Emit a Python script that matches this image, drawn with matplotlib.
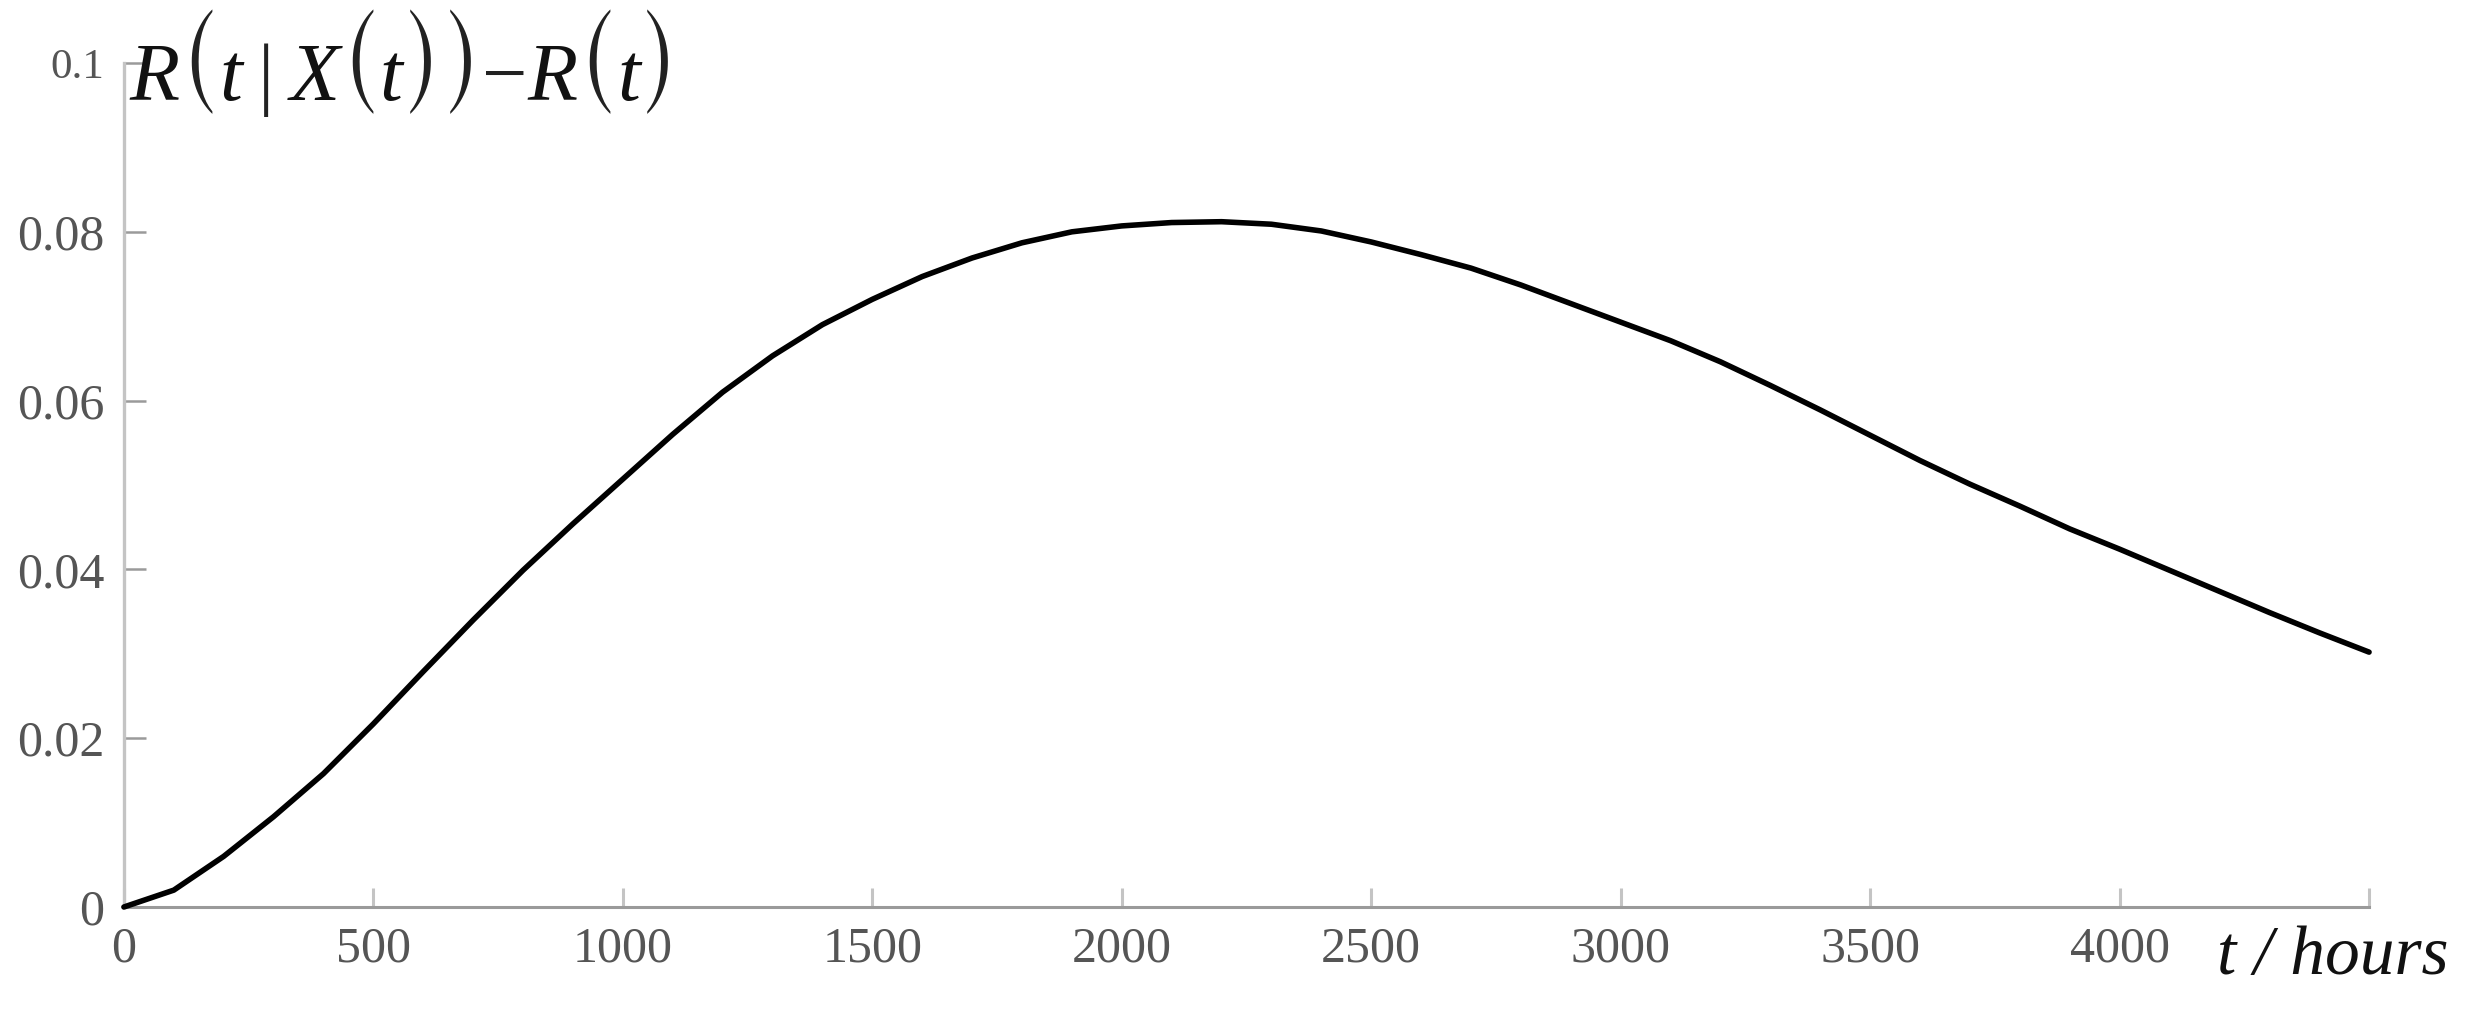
import matplotlib
matplotlib.use('Agg')
import matplotlib.pyplot as plt
from matplotlib.offsetbox import TextArea, HPacker, AnchoredOffsetbox

# curve values (t in hours)
hours = [0, 100, 200, 300, 400, 500, 600, 700, 800, 900,
         1000, 1100, 1200, 1300, 1400, 1500, 1600, 1700, 1800, 1900,
         2000, 2100, 2200, 2300, 2400, 2500, 2600, 2700, 2800, 2900,
         3000, 3100, 3200, 3300, 3400, 3500, 3600, 3700, 3800, 3900,
         4000, 4100, 4200, 4300, 4400, 4500]
reliability_gain = [0.0, 0.0020, 0.0060, 0.0107, 0.0158, 0.0217, 0.0279, 0.0340, 0.0399, 0.0454,
                    0.0507, 0.0560, 0.0610, 0.0653, 0.0690, 0.0720, 0.0747, 0.0769, 0.0787, 0.0800,
                    0.0807, 0.0811, 0.0812, 0.0809, 0.0801, 0.0788, 0.0773, 0.0757, 0.0737, 0.0715,
                    0.0693, 0.0671, 0.0646, 0.0618, 0.0589, 0.0559, 0.0529, 0.0501, 0.0475, 0.0448,
                    0.0424, 0.0399, 0.0374, 0.0349, 0.0325, 0.0302]

x_ticks = [0, 500, 1000, 1500, 2000, 2500, 3000, 3500, 4000, 4500]
x_tick_labels = ['0', '500', '1000', '1500', '2000', '2500', '3000', '3500', '4000', '']
y_ticks = [0, 0.02, 0.04, 0.06, 0.08, 0.1]
y_tick_labels = ['0', '0.02', '0.04', '0.06', '0.08', '0.1']

# y-axis title R(t | X(t)) - R(t), split so the brackets can be taller
title_parts = ['R', '(', 't', '\u2009|\u2009', 'X', '(', 't', ')', ')', '\u2212', 'R', '(', 't', ')']

plt.rcParams['font.family'] = ['Liberation Serif', 'DejaVu Serif']

fig = plt.figure(figsize=(24.88, 10.15), dpi=100)
ax = fig.add_axes([0.0498, 0.1064, 0.9024, 0.8315])

ax.plot(hours, reliability_gain, color='black', linewidth=4.0, clip_on=False,
        solid_capstyle='round', zorder=5)

ax.set_xlim(0, 4500)
ax.set_ylim(0, 0.1)

for side in ('top', 'right'):
    ax.spines[side].set_visible(False)
ax.spines['left'].set_color('#c4c4c4')
ax.spines['left'].set_linewidth(2.4)
ax.spines['bottom'].set_color('#9a9a9a')
ax.spines['bottom'].set_linewidth(2.2)

ax.set_xticks(x_ticks)
ax.set_xticklabels(x_tick_labels)
ax.set_yticks(y_ticks)
ax.set_yticklabels(y_tick_labels)

ax.tick_params(axis='x', direction='in', length=14, width=2.2, color='#c4c4c4',
               labelsize=36, labelcolor='#555555', pad=14)
ax.tick_params(axis='y', direction='in', length=16, width=1.8, color='#9a9a9a',
               labelsize=36, labelcolor='#555555', pad=14)
# top label is smaller in the reference
ax.get_yticklabels()[-1].set_fontsize(31)

boxes = []
for part in title_parts:
    if part in '()':
        # tall thin brackets from matplotlib's bundled STIX size-1 font
        props = dict(fontsize=61, color='#222222', family='STIXSizeOneSym')
    elif part in ('\u2009|\u2009', '\u2212'):
        props = dict(fontsize=58, color='#222222', family='Liberation Serif')
    else:
        props = dict(fontsize=59, color='#111111', family='Liberation Serif', style='italic')
    boxes.append(TextArea(part, textprops=props))
title = HPacker(children=boxes, align='baseline', pad=0, sep=0)
fig.add_artist(AnchoredOffsetbox(loc='lower left', child=title, pad=0, borderpad=0,
                                 frameon=False, bbox_to_anchor=(0.052, 0.884),
                                 bbox_transform=fig.transFigure))

fig.text(0.891, 0.040, 't / hours', fontsize=50, style='italic',
         ha='left', va='baseline', color='#111111')

fig.savefig('out.png', dpi=100, facecolor='white')
